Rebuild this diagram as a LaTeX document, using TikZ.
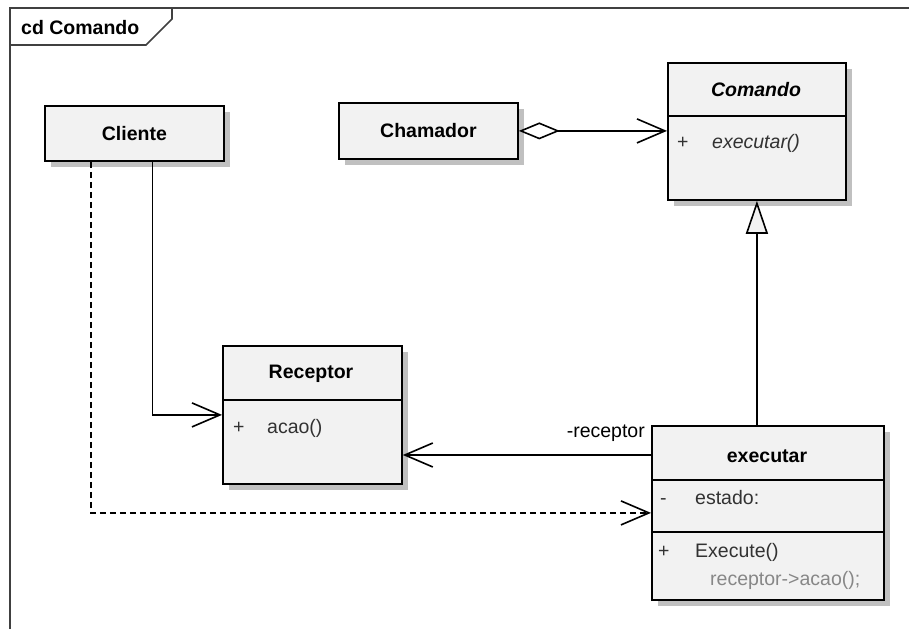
\documentclass[tikz,border=0pt]{standalone}
\usepackage{fontspec}
\setmainfont{Liberation Sans}
\usetikzlibrary{arrows.meta,shadows,calc,positioning}

\definecolor{boxgray}{RGB}{242,242,242}
\definecolor{shadowgray}{RGB}{192,192,192}
\definecolor{membertext}{RGB}{50,50,50}
\definecolor{codetext}{RGB}{135,135,135}
\newcommand{\umlfont}{\fontsize{19.5}{23}\selectfont}

\tikzset{
  classbox/.style={draw, line width=1.8pt, fill=boxgray, anchor=north west, inner sep=0pt,
    drop shadow={shadow xshift=6pt, shadow yshift=-6pt, opacity=1, fill=shadowgray}},
  classname/.style={font=\umlfont\bfseries, inner sep=0pt},
  member/.style={font=\umlfont, text=membertext, inner sep=0pt, anchor=west,
    text height=14pt, text depth=3.5pt},
  divider/.style={line width=1.8pt},
  assoc/.style={line width=1.6pt, -{Straight Barb[length=28pt, width=24pt, line width=1.6pt]}},
  depend/.style={assoc, dash pattern=on 6pt off 4pt},
  aggreg/.style={line width=1.6pt, {Diamond[open, length=41pt, width=17pt, line width=1.6pt, fill=white]}-{Straight Barb[length=28pt, width=24pt, line width=1.6pt]}},
  inherit/.style={line width=1.6pt, -{Triangle[open, length=33pt, width=22pt, line width=1.6pt, fill=boxgray]}},
  frameline/.style={line width=1.6pt, black!75}
}

\begin{document}
\begin{tikzpicture}[x=1pt, y=-1pt]
\useasboundingbox (0,0) rectangle (909,629);

% frame
\draw[frameline] (10,629) -- (10,8) -- (909,8);
\draw[frameline] (10,45) -- (146,45) -- (172,19) -- (172,8);
\node[classname, anchor=west] (title) at (21,28) {cd Comando};

% classes
\node[classbox, minimum width=179pt, minimum height=55pt] (cliente) at (44,105) {};
\node[classname] (clienteName) at (cliente.center) {Cliente};

\node[classbox, minimum width=179pt, minimum height=56pt] (chamador) at (338,102) {};
\node[classname] (chamadorName) at (chamador.center) {Chamador};

\node[classbox, minimum width=178pt, minimum height=137pt] (comando) at (667,62) {};
\draw[divider] (comando.west |- 0,116) -- (comando.east |- 0,116);
\node[classname, font=\umlfont\bfseries\itshape] (comandoName) at (756,90) {Comando};
\node[member] (comandoVis) at (677,143) {+};
\node[member, font=\umlfont\itshape] (comandoOp) at (712,143) {executar()};

\node[classbox, minimum width=179pt, minimum height=138pt] (receptor) at (222,345) {};
\draw[divider] (receptor.west |- 0,400) -- (receptor.east |- 0,400);
\node[classname] (receptorName) at (311,374) {Receptor};
\node[member] (receptorVis) at (233,428) {+};
\node[member] (receptorOp) at (267,428) {acao()};

\node[classbox, minimum width=232pt, minimum height=174pt] (executar) at (651,425) {};
\draw[divider] (executar.west |- 0,480) -- (executar.east |- 0,480);
\draw[divider] (executar.west |- 0,532) -- (executar.east |- 0,532);
\node[classname] (executarName) at (767,456) {executar};
\node[member] (executarAttVis) at (660,499) {-};
\node[member] (executarAtt) at (695,499) {estado:};
\node[member] (executarOpVis) at (658,552) {+};
\node[member] (executarOp) at (695,552) {Execute()};
\node[member, text=codetext] (executarCode) at (710,580) {receptor->acao();};

% relations
\draw[aggreg] (chamador.east) -- (chamador.east -| comando.west);
\draw[inherit] (executar.north -| comando.south) -- (comando.south);
\draw[assoc] ($(cliente.south west)!.6!(cliente.south east)$) |- (receptor.west);
\draw[depend] ($(cliente.south west)!.26!(cliente.south east)$) |- (executar.west);
\draw[assoc] (executar.west |- 0,455) -- (receptor.east |- 0,455);
\node[member, anchor=east, text=black] (roleName) at (645,432) {-receptor};

\end{tikzpicture}
\end{document}
